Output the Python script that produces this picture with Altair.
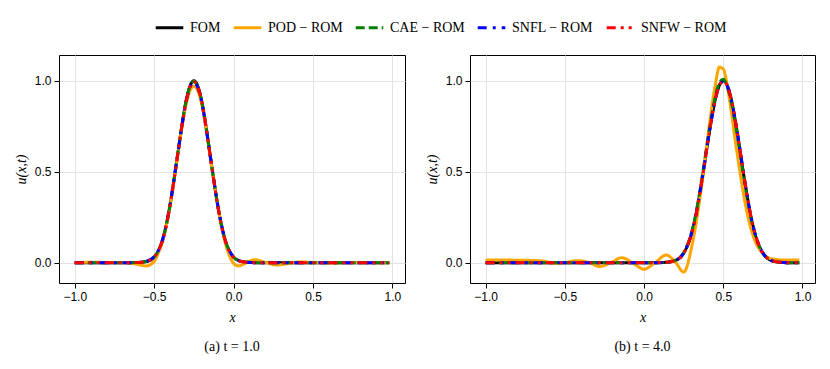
import altair as alt
import pandas as pd

series_names = ["FOM", "POD − ROM", "CAE − ROM", "SNFL − ROM", "SNFW − ROM"]
series_colors = ["#000000", "#FFA500", "#008000", "#0000FF", "#FF0000"]
series_dashes = [[1, 0], [1, 0], [9, 4], [9, 6, 3, 6], [9, 5, 3, 5, 3, 5]]

# ---- panel (a): t = 1.0 ----
x_a = [-1.0, -0.9, -0.8, -0.7, -0.65, -0.6, -0.55, -0.5, -0.475, -0.45, -0.425, -0.4,
       -0.375, -0.35, -0.325, -0.3, -0.275, -0.25, -0.225, -0.2, -0.175, -0.15, -0.125,
       -0.1, -0.075, -0.05, -0.025, 0.0, 0.03, 0.07, 0.13, 0.2, 0.27, 0.35, 0.42, 0.5,
       0.6, 0.7, 0.8, 0.9, 0.98]
fom_a = [0.0, 0.0, 0.0, 0.0, 0.0, 0.001, 0.006, 0.03, 0.062, 0.115, 0.2, 0.315,
         0.455, 0.605, 0.755, 0.885, 0.97, 1.0, 0.97, 0.885, 0.755, 0.605, 0.455,
         0.315, 0.2, 0.115, 0.062, 0.03, 0.012, 0.003, 0.0, 0.0, 0.0, 0.0, 0.0, 0.0,
         0.0, 0.0, 0.0, 0.0, 0.0]
pod_a = [0.0, 0.002, 0.001, 0.0, -0.003, -0.01, -0.018, 0.006, 0.05, 0.11, 0.195, 0.31,
         0.45, 0.6, 0.745, 0.865, 0.945, 0.97, 0.945, 0.87, 0.75, 0.6, 0.455,
         0.315, 0.195, 0.1, 0.035, -0.004, -0.018, -0.006, 0.016, 0.002, -0.013, -0.004,
         0.004, 0.001, -0.002, 0.0, 0.001, 0.0, 0.0]
cae_a = [0.0, 0.0, 0.0, 0.0, 0.0, 0.001, 0.006, 0.031, 0.063, 0.117, 0.202, 0.317,
         0.457, 0.607, 0.756, 0.884, 0.968, 0.997, 0.968, 0.884, 0.756, 0.606, 0.456,
         0.316, 0.201, 0.116, 0.062, 0.03, 0.012, 0.003, 0.0, 0.0, 0.0, 0.0, 0.0, 0.0,
         0.0, 0.0, 0.0, 0.0, 0.0]
snfl_a = [0.0, 0.0, 0.0, 0.0, 0.0, 0.001, 0.007, 0.032, 0.064, 0.118, 0.203, 0.318,
          0.458, 0.606, 0.754, 0.88, 0.962, 0.99, 0.962, 0.88, 0.754, 0.606, 0.458,
          0.318, 0.203, 0.117, 0.063, 0.031, 0.013, 0.003, 0.0, 0.0, 0.0, 0.0, 0.0, 0.0,
          0.0, 0.0, 0.0, 0.0, 0.0]
snfw_a = [0.0, 0.0, 0.0, 0.0, 0.0, 0.001, 0.006, 0.031, 0.063, 0.116, 0.201, 0.316,
          0.456, 0.606, 0.755, 0.883, 0.966, 0.995, 0.966, 0.883, 0.755, 0.605, 0.455,
          0.315, 0.2, 0.115, 0.062, 0.03, 0.012, 0.003, 0.0, 0.0, 0.0, 0.0, 0.0, 0.0,
          0.0, 0.0, 0.0, 0.0, 0.0]

# ---- panel (b): t = 4.0 ----
x_b = [-1.0, -0.85, -0.7, -0.63, -0.56, -0.49, -0.42, -0.35, -0.28, -0.21, -0.14, -0.07,
       0.0, 0.07, 0.14, 0.2, 0.25, 0.3, 0.325, 0.35, 0.375, 0.4, 0.425, 0.45, 0.475,
       0.5, 0.525, 0.55, 0.575, 0.6, 0.625, 0.65, 0.675, 0.7, 0.725, 0.75, 0.775, 0.8,
       0.85, 0.9, 0.98]
fom_b = [0.0, 0.0, 0.0, 0.0, 0.0, 0.0, 0.0, 0.0, 0.0, 0.0, 0.0, 0.0,
         0.0, 0.0, 0.002, 0.013, 0.052, 0.16, 0.25, 0.37, 0.505, 0.65, 0.785, 0.9, 0.975,
         1.0, 0.975, 0.9, 0.785, 0.65, 0.505, 0.37, 0.25, 0.16, 0.095, 0.052, 0.027, 0.013,
         0.003, 0.0, 0.0]
pod_b = [0.015, 0.014, 0.012, 0.008, -0.004, 0.002, 0.011, 0.002, -0.021, 0.0, 0.027, -0.003,
         -0.036, 0.0, 0.042, 0.0, -0.052, 0.085, 0.2, 0.34, 0.5, 0.67, 0.84, 0.98, 1.075,
         1.065, 0.975, 0.835, 0.675, 0.53, 0.39, 0.275, 0.185, 0.12, 0.078, 0.05, 0.032, 0.022,
         0.016, 0.014, 0.014]
cae_b = [0.0, 0.0, 0.0, 0.0, 0.0, 0.0, 0.0, 0.0, 0.0, 0.0, 0.0, 0.0,
         0.0, 0.0, 0.002, 0.014, 0.055, 0.168, 0.26, 0.383, 0.52, 0.665, 0.8, 0.915, 0.99,
         1.008, 0.97, 0.885, 0.77, 0.635, 0.495, 0.362, 0.245, 0.157, 0.094, 0.052, 0.027, 0.013,
         0.003, 0.0, 0.0]
snfl_b = [0.0, 0.0, 0.0, 0.0, 0.0, 0.0, 0.0, 0.0, 0.0, 0.0, 0.0, 0.0,
          0.0, 0.0, 0.002, 0.013, 0.053, 0.162, 0.252, 0.372, 0.507, 0.652, 0.786, 0.9, 0.972,
          0.996, 0.972, 0.898, 0.785, 0.652, 0.508, 0.372, 0.252, 0.162, 0.096, 0.053, 0.027, 0.013,
          0.003, 0.0, 0.0]
snfw_b = [0.0, 0.0, 0.0, 0.0, 0.0, 0.0, 0.0, 0.0, 0.0, 0.0, 0.0, 0.0,
          0.0, 0.0, 0.002, 0.013, 0.052, 0.161, 0.251, 0.371, 0.506, 0.651, 0.786, 0.9, 0.974,
          0.998, 0.974, 0.899, 0.785, 0.651, 0.506, 0.371, 0.251, 0.161, 0.095, 0.052, 0.027, 0.013,
          0.003, 0.0, 0.0]

x_ticks = [-1.0, -0.5, 0.0, 0.5, 1.0]
y_ticks = [0.0, 0.5, 1.0]
x_domain = [-1.099, 1.079]
y_domain = [-0.112, 1.142]
captions = ["(a)  t = 1.0", "(b)  t = 4.0"]


def long_frame(x, cols):
    rows = []
    for name, vals in zip(series_names, cols):
        for xi, yi in zip(x, vals):
            rows.append({"x": xi, "u": yi, "series": name})
    return pd.DataFrame(rows)


df_a = long_frame(x_a, [fom_a, pod_a, cae_a, snfl_a, snfw_a])
df_b = long_frame(x_b, [fom_b, pod_b, cae_b, snfl_b, snfw_b])

color_scale = alt.Scale(domain=series_names, range=series_colors)
dash_scale = alt.Scale(domain=series_names, range=series_dashes)
legend = alt.Legend(
    title=None, orient="none", direction="horizontal", legendX=95, legendY=-43,
    labelFont="Liberation Serif", labelFontSize=14, labelColor="#000000",
    symbolType="stroke", symbolStrokeWidth=3, symbolSize=760, labelOffset=5,
    columnPadding=6, labelLimit=300,
)

x_axis = alt.Axis(values=x_ticks, format=".1f", title="x", grid=True, titlePadding=8)
y_axis = alt.Axis(values=y_ticks, format=".1f", title="u(x,t)", grid=True, titlePadding=6)


def panel(df, width, caption):
    layers = []
    for name in series_names:
        layers.append(
            alt.Chart(df)
            .transform_filter(alt.datum.series == name)
            .mark_line(strokeWidth=3, interpolate="monotone", clip=True, strokeCap="butt")
            .encode(
                x=alt.X("x:Q", scale=alt.Scale(domain=x_domain, nice=False, zero=False), axis=x_axis),
                y=alt.Y("u:Q", scale=alt.Scale(domain=y_domain, nice=False, zero=False), axis=y_axis),
                color=alt.Color("series:N", scale=color_scale, legend=legend),
                strokeDash=alt.StrokeDash("series:N", scale=dash_scale, legend=legend),
            )
        )
    return alt.layer(*layers).properties(
        width=width, height=228,
        title=alt.TitleParams(caption, orient="bottom", anchor="middle", font="Liberation Serif",
                              fontSize=14, fontWeight="normal", color="#000000", offset=16),
    )


chart = (
    alt.hconcat(panel(df_a, 346, captions[0]), panel(df_b, 345, captions[1]), spacing=18)
    .properties(padding={"left": 5, "top": 4, "right": 5, "bottom": 5})
    .configure_view(stroke="#000000", strokeWidth=1)
    .configure_axis(
        labelFont="Liberation Sans", labelFontSize=12, labelColor="#000000", labelPadding=3,
        tickColor="#000000", tickSize=5, tickWidth=1, domain=False,
        gridColor="#e3e3e3", gridWidth=1,
        titleFont="Liberation Serif", titleFontSize=14, titleFontStyle="italic",
        titleFontWeight="normal", titleColor="#000000",
    )
)

chart.save("out.html", embed_options={"renderer": "svg", "actions": False})
